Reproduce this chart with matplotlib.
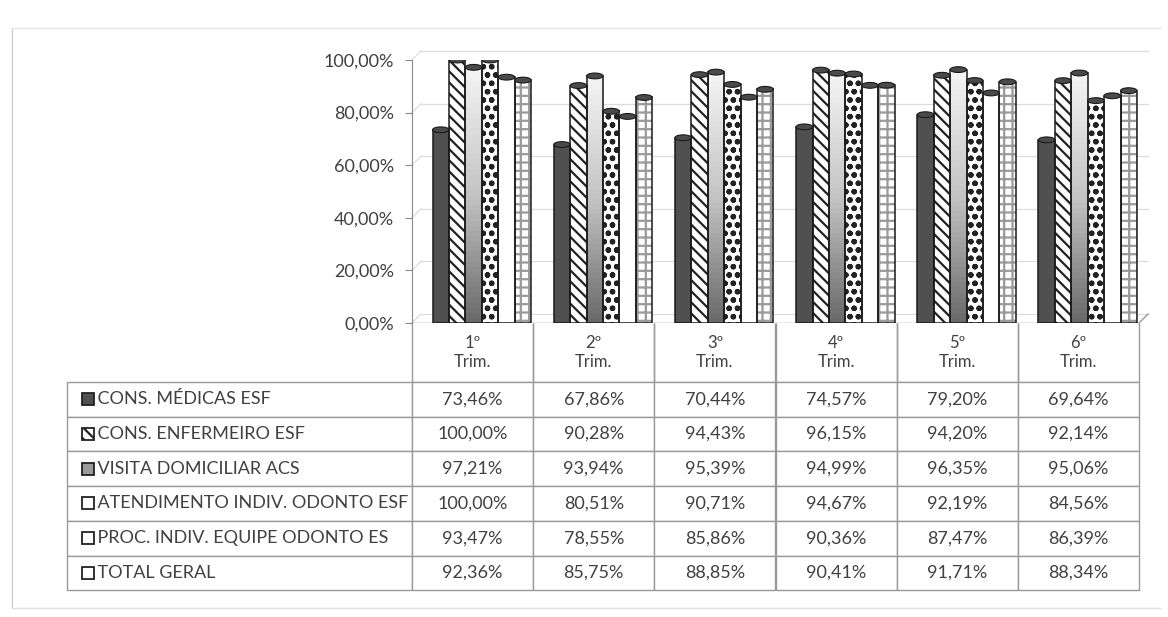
import matplotlib
matplotlib.use("Agg")
import matplotlib.pyplot as plt
import numpy as np
from matplotlib.patches import Rectangle, Ellipse
from matplotlib.colors import LinearSegmentedColormap
import matplotlib.transforms as mtransforms

# dados
trimestres = ["1º\nTrim.", "2º\nTrim.", "3º\nTrim.", "4º\nTrim.", "5º\nTrim.", "6º\nTrim."]
series = ["CONS. MÉDICAS ESF", "CONS. ENFERMEIRO ESF", "VISITA DOMICILIAR ACS",
          "ATENDIMENTO INDIV. ODONTO ESF", "PROC. INDIV. EQUIPE ODONTO ES", "TOTAL GERAL"]
cons_medicas = [73.46, 67.86, 70.44, 74.57, 79.20, 69.64]
cons_enfermeiro = [100.00, 90.28, 94.43, 96.15, 94.20, 92.14]
visita_acs = [97.21, 93.94, 95.39, 94.99, 96.35, 95.06]
atend_odonto = [100.00, 80.51, 90.71, 94.67, 92.19, 84.56]
proc_odonto = [93.47, 78.55, 85.86, 90.36, 87.47, 86.39]
total_geral = [92.36, 85.75, 88.85, 90.41, 91.71, 88.34]
valores = [cons_medicas, cons_enfermeiro, visita_acs, atend_odonto, proc_odonto, total_geral]

plt.rcParams['font.family'] = ['Lato', 'DejaVu Sans']
plt.rcParams['hatch.linewidth'] = 1.6

W, H = 1168, 617
AW, AH = 727, 263  # tamanho do eixo em pixels
fig = plt.figure(figsize=(W / 100, H / 100), dpi=100)
ax = fig.add_axes([412 / W, 1 - 323 / H, AW / W, AH / H])

# parede de fundo (efeito 3D)
off = mtransforms.ScaledTranslation(9 / 100, 9 / 100, fig.dpi_scale_trans)
trans_back = ax.get_yaxis_transform() + off
for v in np.arange(0, 1.01, 0.2):
    ax.plot([0, 1], [v, v], transform=trans_back, color="#dcdcdc", lw=0.9, clip_on=False, zorder=0)
    ax.plot([0, 9 / AW], [v, v + 9 / AH], transform=ax.transAxes, color="#dcdcdc", lw=0.9,
            clip_on=False, zorder=0)
ax.plot([1, 1 + 9 / AW], [0, 9 / AH], transform=ax.transAxes, color="#9a9a9a", lw=1, clip_on=False)

# barras
w = 0.1355
cores = ["#505050", "white", None, "white", "white", "white"]
hatches = [None, "\\\\\\", None, "oo", None, "++"]
grad = LinearSegmentedColormap.from_list("g", ["#f4f4f4", "#c4c4c4", "#6a6a6a"])
for s, vals in enumerate(valores):
    for i, v in enumerate(vals):
        v = v / 100
        x0 = i - 0.5 + 0.17 + s * w
        if s == 2:
            img = np.linspace(0, 1, 50).reshape(-1, 1) * np.ones((1, 5))
            ax.imshow(img, extent=[x0, x0 + w, 0, v], cmap=grad, aspect="auto", zorder=2)
        elif hatches[s] is not None:
            hc = "#9a9a9a" if s == 5 else "#222222"
            ax.bar(x0, v, width=w, align="edge", color=cores[s], edgecolor=hc, hatch=hatches[s],
                   linewidth=0, zorder=2)
        else:
            ax.bar(x0, v, width=w, align="edge", color=cores[s], linewidth=0, zorder=2)
        ax.bar(x0, v, width=w, align="edge", color="none", edgecolor="#1a1a1a", linewidth=1.1, zorder=3)
        ax.add_patch(Ellipse((x0 + w / 2, v), w, 0.022, facecolor="#4a4a4a", edgecolor="#1a1a1a",
                             lw=0.8, zorder=4))
ax.set_xlim(-0.5, 5.5)
ax.set_ylim(0, 1)

# eixos
for sp in ["top", "right", "bottom"]:
    ax.spines[sp].set_visible(False)
ax.spines["left"].set_color("#8a8a8a")
ax.axhline(0, color="#8a8a8a", lw=1, zorder=1)
ax.set_yticks(np.arange(0, 1.01, 0.2))
ax.set_yticklabels([f"{t * 100:.2f}%".replace(".", ",") for t in np.arange(0, 1.01, 0.2)],
                   fontsize=13, color="#404040")
ax.tick_params(axis="y", length=5, color="#8a8a8a", pad=8)
ax.set_xticks([])

# tabela de dados
h_head, h_row = 59 / AH, 34.7 / AH
col_w = 1 / 6
lab_w = 345 / AW
texto = [[f"{v:.2f}%".replace(".", ",") for v in vals] for vals in valores]
tb = ax.table(cellText=texto, rowLabels=["    " + n for n in series], colLabels=trimestres,
              cellLoc="center", rowLoc="left", loc="bottom",
              bbox=[0, -(h_head + 6 * h_row), 1, h_head + 6 * h_row])
tb.auto_set_font_size(False)
tb._autoColumns = []
for (r, c), cell in tb.get_celld().items():
    cell.set_edgecolor("#9a9a9a")
    cell.get_text().set_color("#404040")
    cell.get_text().set_fontsize(13)
    cell.set_height(h_head if r == 0 else h_row)
    if c == -1:
        cell.set_width(lab_w)
        cell.PAD = 0.035
    else:
        cell.set_width(col_w)
    if r == 0:
        cell.visible_edges = "LRB"
        cell.get_text().set_fontsize(12)
        cell.get_text().set_linespacing(1.3)

# amostras da legenda
sw_cor = ["#505050", "white", "#9a9a9a", "white", "white", "white"]
for r in range(6):
    yc = h_head + h_row * (r + 0.5)
    xa = (82 - 412) / AW
    ax.add_patch(Rectangle((xa, -yc - 6 / AH), 12 / AW, 12 / AH, transform=ax.transAxes,
                           facecolor=sw_cor[r], edgecolor="#222222",
                           hatch=hatches[r] if r == 1 else None,
                           lw=1.3, clip_on=False, zorder=5))

# moldura da página
fig.add_artist(plt.Line2D([12 / W, 12 / W], [1 - 28 / H, 1 - 608 / H], color="#d0d0d0", lw=1))
fig.add_artist(plt.Line2D([12 / W, 1160 / W], [1 - 608 / H, 1 - 608 / H], color="#e0e0e0", lw=1))
fig.add_artist(plt.Line2D([12 / W, 1160 / W], [1 - 28 / H, 1 - 28 / H], color="#e6e6e6", lw=1))

fig.savefig("out.png", dpi=100)
